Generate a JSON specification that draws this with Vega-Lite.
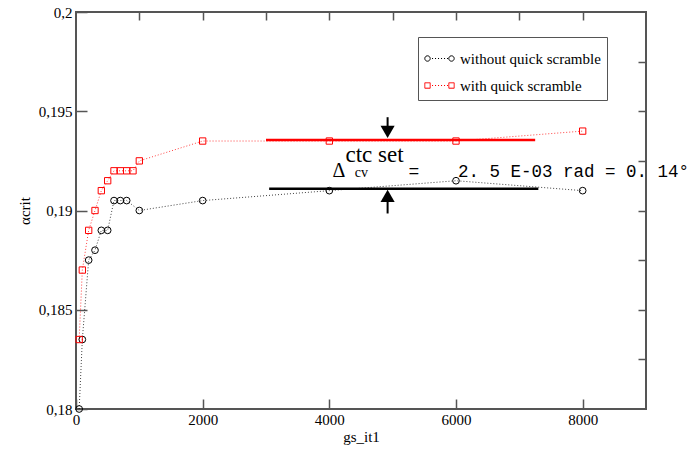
{
  "$schema": "https://vega.github.io/schema/vega-lite/v6.json",
  "width": 570,
  "height": 397,
  "autosize": {"type": "none"},
  "padding": {"left": 76, "top": 12, "right": 45, "bottom": 41},
  "background": "white",
  "data": {
    "values": [
      {"series": "without quick scramble", "x": 50, "y": 0.18},
      {"series": "without quick scramble", "x": 100, "y": 0.1835},
      {"series": "without quick scramble", "x": 200, "y": 0.1875},
      {"series": "without quick scramble", "x": 300, "y": 0.188},
      {"series": "without quick scramble", "x": 400, "y": 0.189},
      {"series": "without quick scramble", "x": 500, "y": 0.189},
      {"series": "without quick scramble", "x": 600, "y": 0.1905},
      {"series": "without quick scramble", "x": 700, "y": 0.1905},
      {"series": "without quick scramble", "x": 800, "y": 0.1905},
      {"series": "without quick scramble", "x": 1000, "y": 0.19},
      {"series": "without quick scramble", "x": 2000, "y": 0.1905},
      {"series": "without quick scramble", "x": 4000, "y": 0.191},
      {"series": "without quick scramble", "x": 6000, "y": 0.1915},
      {"series": "without quick scramble", "x": 8000, "y": 0.191},
      {"series": "with quick scramble", "x": 50, "y": 0.1835},
      {"series": "with quick scramble", "x": 100, "y": 0.187},
      {"series": "with quick scramble", "x": 200, "y": 0.189},
      {"series": "with quick scramble", "x": 300, "y": 0.19},
      {"series": "with quick scramble", "x": 400, "y": 0.191},
      {"series": "with quick scramble", "x": 500, "y": 0.1915},
      {"series": "with quick scramble", "x": 600, "y": 0.192},
      {"series": "with quick scramble", "x": 700, "y": 0.192},
      {"series": "with quick scramble", "x": 800, "y": 0.192},
      {"series": "with quick scramble", "x": 900, "y": 0.192},
      {"series": "with quick scramble", "x": 1000, "y": 0.1925},
      {"series": "with quick scramble", "x": 2000, "y": 0.1935},
      {"series": "with quick scramble", "x": 4000, "y": 0.1935},
      {"series": "with quick scramble", "x": 6000, "y": 0.1935},
      {"series": "with quick scramble", "x": 8000, "y": 0.194}
    ]
  },
  "layer": [
    {
      "mark": {"type": "line", "strokeDash": [1, 2], "strokeWidth": 1, "opacity": 0.75},
      "encoding": {
        "x": {
          "field": "x", "type": "quantitative",
          "scale": {"domain": [0, 9000], "nice": false, "zero": false},
          "axis": {
            "orient": "bottom", "title": "gs_it1", "format": "d",
            "values": [0, 2000, 4000, 6000, 8000],
            "offset": -10, "ticks": true, "tickSize": 10, "tickColor": "#555555", "tickWidth": 1.5,
            "grid": false,
            "labelPadding": 3, "titlePadding": 2, "labelFlush": false
          }
        },
        "y": {
          "field": "y", "type": "quantitative",
          "scale": {"domain": [0.18, 0.2], "nice": false, "zero": false},
          "axis": {
            "orient": "left", "title": "αcrit",
            "values": [0.18, 0.185, 0.19, 0.195, 0.2],
            "labelExpr": "replace(toString(datum.value), '.', ',')",
            "offset": -11, "ticks": true, "tickSize": 11, "tickColor": "#555555", "tickWidth": 1.5,
            "grid": false,
            "labelPadding": 4, "titlePadding": 6, "labelFlush": false
          }
        },
        "color": {
          "field": "series", "type": "nominal",
          "scale": {"domain": ["without quick scramble", "with quick scramble"], "range": ["#000000", "#ff0000"]},
          "legend": {
            "orient": "none", "legendX": 342, "legendY": 25, "title": null,
            "strokeColor": "#555555", "padding": 6, "rowPadding": 3,
            "labelFont": "Times New Roman", "labelFontSize": 15, "labelColor": "black",
            "symbolSize": 900, "symbolStrokeWidth": 1, "symbolOpacity": 1, "symbolFillColor": "transparent",
            "labelOffset": 5,
            "encode": {
              "symbols": {
                "update": {
                  "shape": {"signal": "datum.value == 'with quick scramble' ? 'M-0.98,-0.18h0.36v0.36h-0.36zM0.62,-0.18h0.36v0.36h-0.36zM-0.5,0h0.07M-0.3,0h0.07M-0.1,0h0.07M0.1,0h0.07M0.3,0h0.07M0.5,0h0.07' : 'M-0.98,0a0.18,0.18 0 1,0 0.36,0a0.18,0.18 0 1,0 -0.36,0M0.62,0a0.18,0.18 0 1,0 0.36,0a0.18,0.18 0 1,0 -0.36,0M-0.5,0h0.07M-0.3,0h0.07M-0.1,0h0.07M0.1,0h0.07M0.3,0h0.07M0.5,0h0.07'"},
                  "strokeDash": {"value": [1, 0]},
                  "fill": {"value": "transparent"}
                }
              }
            }
          }
        }
      }
    },
    {
      "mark": {"type": "point", "opacity": 0},
      "encoding": {
        "x": {
          "field": "x", "type": "quantitative",
          "axis": {
            "orient": "top", "title": null, "labels": false,
            "values": [1000, 2000, 3000, 4000, 5000, 6000, 7000, 8000],
            "offset": -8, "ticks": true, "tickSize": 8, "tickColor": "#555555", "tickWidth": 1.5,
            "grid": false
          }
        },
        "y": {
          "field": "y", "type": "quantitative",
          "axis": {
            "orient": "right", "title": null, "labels": false,
            "values": [0.1825, 0.185, 0.1875, 0.19, 0.1925, 0.195, 0.1975],
            "offset": -8, "ticks": true, "tickSize": 8, "tickColor": "#555555", "tickWidth": 1.5,
            "grid": false
          }
        }
      }
    },
    {
      "transform": [{"filter": "datum.series == 'without quick scramble'"}],
      "mark": {"type": "point", "shape": "circle", "filled": false, "size": 45, "strokeWidth": 1, "opacity": 1, "color": "#000000"},
      "encoding": {
        "x": {"field": "x", "type": "quantitative", "axis": null},
        "y": {"field": "y", "type": "quantitative", "axis": null}
      }
    },
    {
      "transform": [{"filter": "datum.series == 'with quick scramble'"}],
      "mark": {"type": "point", "shape": "square", "filled": false, "size": 40, "strokeWidth": 1, "opacity": 1, "color": "#ff0000"},
      "encoding": {
        "x": {"field": "x", "type": "quantitative", "axis": null},
        "y": {"field": "y", "type": "quantitative", "axis": null}
      }
    },
    {
      "data": {"values": [{}]},
      "mark": {"type": "rule", "color": "#ff0000", "strokeWidth": 2.5},
      "encoding": {
        "x": {"datum": 3000, "type": "quantitative", "axis": null},
        "x2": {"datum": 7250},
        "y": {"datum": 0.19355, "type": "quantitative", "axis": null}
      }
    },
    {
      "data": {"values": [{}]},
      "mark": {"type": "rule", "color": "#000000", "strokeWidth": 2.5},
      "encoding": {
        "x": {"datum": 3050, "type": "quantitative", "axis": null},
        "x2": {"datum": 7300},
        "y": {"datum": 0.1911, "type": "quantitative", "axis": null}
      }
    },
    {
      "data": {"values": [{}]},
      "mark": {"type": "rule", "color": "#000000", "strokeWidth": 2},
      "encoding": {
        "x": {"datum": 4920, "type": "quantitative", "axis": null},
        "y": {"datum": 0.1947, "type": "quantitative", "axis": null},
        "y2": {"datum": 0.1941}
      }
    },
    {
      "data": {"values": [{}]},
      "mark": {"type": "rule", "color": "#000000", "strokeWidth": 2},
      "encoding": {
        "x": {"datum": 4920, "type": "quantitative", "axis": null},
        "y": {"datum": 0.1905, "type": "quantitative", "axis": null},
        "y2": {"datum": 0.18985}
      }
    },
    {
      "data": {"values": [{}]},
      "mark": {"type": "point", "shape": "triangle-down", "filled": true, "color": "#000000", "size": 200, "opacity": 1},
      "encoding": {
        "x": {"datum": 4920, "type": "quantitative", "axis": null},
        "y": {"datum": 0.19396, "type": "quantitative", "axis": null}
      }
    },
    {
      "data": {"values": [{}]},
      "mark": {"type": "point", "shape": "triangle-up", "filled": true, "color": "#000000", "size": 200, "opacity": 1},
      "encoding": {
        "x": {"datum": 4920, "type": "quantitative", "axis": null},
        "y": {"datum": 0.19074, "type": "quantitative", "axis": null}
      }
    },
    {
      "data": {"values": [{}]},
      "mark": {"type": "text", "text": "ctc set", "font": "Times New Roman", "fontSize": 23, "align": "center", "baseline": "alphabetic", "color": "black"},
      "encoding": {
        "x": {"datum": 4714, "type": "quantitative", "axis": null},
        "y": {"datum": 0.19245, "type": "quantitative", "axis": null}
      }
    },
    {
      "data": {"values": [{}]},
      "mark": {"type": "text", "text": "Δ", "font": "Times New Roman", "fontSize": 20, "align": "left", "baseline": "alphabetic", "color": "black"},
      "encoding": {
        "x": {"datum": 4050, "type": "quantitative", "axis": null},
        "y": {"datum": 0.1917, "type": "quantitative", "axis": null}
      }
    },
    {
      "data": {"values": [{}]},
      "mark": {"type": "text", "text": "cv", "font": "Times New Roman", "fontSize": 14, "align": "left", "baseline": "alphabetic", "color": "black"},
      "encoding": {
        "x": {"datum": 4400, "type": "quantitative", "axis": null},
        "y": {"datum": 0.1917, "type": "quantitative", "axis": null}
      }
    },
    {
      "data": {"values": [{}]},
      "mark": {"type": "text", "text": "=", "font": "Courier New", "fontSize": 18, "align": "left", "baseline": "alphabetic", "color": "black"},
      "encoding": {
        "x": {"datum": 5250, "type": "quantitative", "axis": null},
        "y": {"datum": 0.1917, "type": "quantitative", "axis": null}
      }
    },
    {
      "data": {"values": [{}]},
      "mark": {"type": "text", "text": "2. 5 E-03 rad = 0. 14°", "font": "Courier New", "fontSize": 17.5, "align": "left", "baseline": "alphabetic", "color": "black"},
      "encoding": {
        "x": {"datum": 6030, "type": "quantitative", "axis": null},
        "y": {"datum": 0.1917, "type": "quantitative", "axis": null}
      }
    }
  ],
  "resolve": {"axis": {"x": "independent", "y": "independent"}},
  "config": {
    "view": {"stroke": "#555555", "strokeWidth": 2},
    "axis": {
      "domain": false,
      "labelFont": "Times New Roman", "titleFont": "Times New Roman",
      "labelFontSize": 15, "labelColor": "black",
      "titleFontWeight": "normal", "titleFontSize": 15, "titleColor": "black"
    }
  }
}
